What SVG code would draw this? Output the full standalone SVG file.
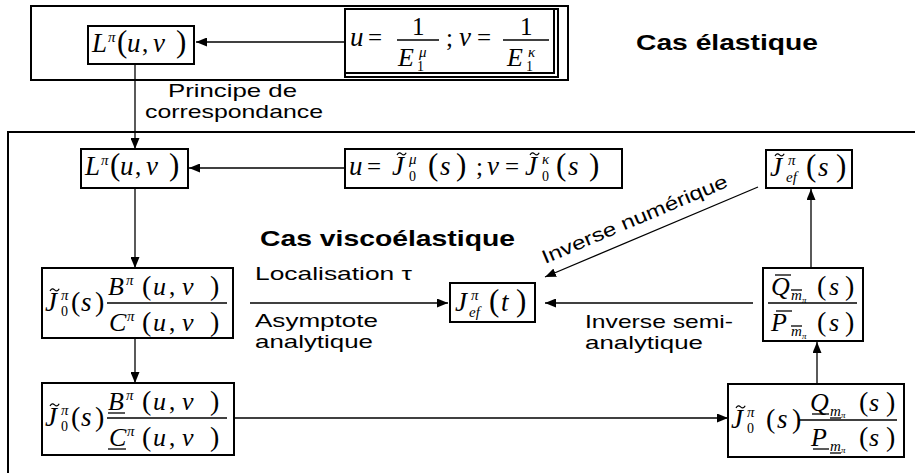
<svg xmlns="http://www.w3.org/2000/svg" width="915" height="473" viewBox="0 0 915 473">
<style>
.box{fill:#fff;stroke:#000;stroke-width:2}
.frame{fill:none;stroke:#000;stroke-width:2}
.ln{fill:none;stroke:#000;stroke-width:1.3}
.bar{stroke:#000;stroke-width:1.3}
.tl{fill:none;stroke:#000;stroke-width:1.2}
.m{font-family:"Liberation Serif","Times New Roman",serif;font-style:italic;font-size:27px}
.mf{font-family:"Liberation Serif","Times New Roman",serif;font-style:italic;font-size:26px}
.r{font-family:"Liberation Serif","Times New Roman",serif;font-size:25px}
.p{font-family:"Liberation Serif","Times New Roman",serif;font-size:31px}
.pf{font-family:"Liberation Serif","Times New Roman",serif;font-size:28px}
.s{font-family:"Liberation Serif","Times New Roman",serif;font-style:italic;font-size:15px}
.s0{font-family:"Liberation Serif","Times New Roman",serif;font-size:14px}
.ss{font-family:"Liberation Serif","Times New Roman",serif;font-style:italic;font-size:9px}
.t{font-family:"Liberation Serif","Times New Roman",serif;font-size:25px}
.lbl{font-family:"Liberation Sans",Arial,sans-serif;font-size:19px}
.ttl{font-family:"Liberation Sans",Arial,sans-serif;font-size:22px;font-weight:bold}
</style>
<defs>
<marker id="ah" markerUnits="userSpaceOnUse" markerWidth="11" markerHeight="9" refX="11" refY="4.5" orient="auto">
<path d="M0,0 L11,4.5 L0,9 z" fill="#000"/>
</marker>
<path id="tilde" class="tl" d="M0,0 c1.5,-2.6 3,-2.6 4.6,-1.1 s3.1,1.5 4.6,-1.1"/>
</defs>

<g id="frames">
<rect class="frame" x="31" y="6" width="537" height="74"/>
<rect class="frame" x="8" y="132" width="930" height="360"/>
</g>

<g id="labels">
<text class="ttl" x="636" y="50" textLength="182" lengthAdjust="spacingAndGlyphs">Cas élastique</text>
<text class="ttl" x="260" y="246" textLength="255" lengthAdjust="spacingAndGlyphs">Cas viscoélastique</text>
<text class="lbl" x="168" y="97" textLength="129" lengthAdjust="spacingAndGlyphs">Principe de</text>
<text class="lbl" x="145" y="118" textLength="178" lengthAdjust="spacingAndGlyphs">correspondance</text>
<text class="lbl" x="255" y="280" textLength="157" lengthAdjust="spacingAndGlyphs">Localisation τ</text>
<text class="lbl" x="255" y="327" textLength="123" lengthAdjust="spacingAndGlyphs">Asymptote</text>
<text class="lbl" x="255" y="348" textLength="118" lengthAdjust="spacingAndGlyphs">analytique</text>
<text class="lbl" x="585" y="328" textLength="148" lengthAdjust="spacingAndGlyphs">Inverse semi-</text>
<text class="lbl" x="585" y="349" textLength="118" lengthAdjust="spacingAndGlyphs">analytique</text>
<text class="lbl" transform="translate(545,264) rotate(-22.9)" textLength="200" lengthAdjust="spacingAndGlyphs">Inverse numérique</text>
</g>

<g id="connectors">
<line class="ln" x1="345" y1="42" x2="196" y2="42" marker-end="url(#ah)"/>
<line class="ln" x1="135" y1="64" x2="135" y2="149" marker-end="url(#ah)"/>
<line class="ln" x1="345" y1="168" x2="189" y2="168" marker-end="url(#ah)"/>
<line class="ln" x1="135" y1="188" x2="135" y2="268" marker-end="url(#ah)"/>
<line class="ln" x1="135" y1="338" x2="135" y2="383" marker-end="url(#ah)"/>
<line class="ln" x1="250" y1="303" x2="448" y2="303" marker-end="url(#ah)"/>
<line class="ln" x1="234" y1="418" x2="728" y2="418" marker-end="url(#ah)"/>
<line class="ln" x1="817" y1="384" x2="817" y2="342" marker-end="url(#ah)"/>
<line class="ln" x1="811" y1="268" x2="811" y2="189" marker-end="url(#ah)"/>
<line class="ln" x1="753" y1="303" x2="545" y2="303" marker-end="url(#ah)"/>
<line class="ln" x1="758" y1="187" x2="545" y2="277" marker-end="url(#ah)"/>
</g>

<g id="node-L-elastic">
<rect class="box" x="88" y="26" width="106" height="38"/>
<text class="m" x="92" y="52">L</text>
<text class="s" x="108" y="42">π</text>
<text class="p" x="117" y="52">(</text>
<text class="m" x="127" y="52">u</text>
<text class="r" x="142" y="52">,</text>
<text class="m" x="153" y="52">v</text>
<text class="p" x="176" y="52">)</text>
</g>

<g id="node-uv-elastic">
<rect class="box" x="345" y="9" width="213" height="68" stroke-width="1.5"/>
<rect class="frame" x="345" y="9" width="209" height="64" stroke-width="1.5"/>
<text class="m" x="350" y="46">u</text>
<text class="r" x="368" y="46">=</text>
<line class="bar" x1="397" y1="40" x2="439" y2="40"/>
<text class="t" x="412" y="35">1</text>
<text class="mf" x="398" y="66">E</text>
<text class="s0" x="417" y="71">1</text>
<text class="s" x="419" y="57">μ</text>
<text class="r" x="446" y="46">;</text>
<text class="m" x="459" y="46">v</text>
<text class="r" x="477" y="46">=</text>
<line class="bar" x1="503" y1="40" x2="549" y2="40"/>
<text class="t" x="520" y="35">1</text>
<text class="mf" x="507" y="66">E</text>
<text class="s0" x="526" y="71">1</text>
<text class="s" x="528" y="57">κ</text>
</g>

<g id="node-L-visco">
<rect class="box" x="81" y="149" width="107" height="39"/>
<text class="m" x="85" y="175">L</text>
<text class="s" x="101" y="165">π</text>
<text class="p" x="110" y="175">(</text>
<text class="m" x="120" y="175">u</text>
<text class="r" x="135" y="175">,</text>
<text class="m" x="146" y="175">v</text>
<text class="p" x="169" y="175">)</text>
</g>

<g id="node-uv-visco">
<rect class="box" x="345" y="149" width="277" height="39"/>
<text class="m" x="349" y="175">u</text>
<text class="r" x="367" y="175">=</text>
<text class="m" x="392" y="175">J</text>
<use href="#tilde" x="397" y="155"/>
<text class="s" x="409" y="164">μ</text>
<text class="s0" x="409" y="181">0</text>
<text class="p" x="428" y="175">(</text>
<text class="m" x="440" y="175">s</text>
<text class="p" x="456" y="175">)</text>
<text class="r" x="476" y="175">;</text>
<text class="m" x="487" y="175">v</text>
<text class="r" x="505" y="175">=</text>
<text class="m" x="525" y="175">J</text>
<use href="#tilde" x="530" y="155"/>
<text class="s" x="542" y="164">κ</text>
<text class="s0" x="542" y="181">0</text>
<text class="p" x="556" y="175">(</text>
<text class="m" x="568" y="175">s</text>
<text class="p" x="589" y="175">)</text>
</g>

<g id="node-J0-BC">
<rect class="box" x="42" y="268" width="191" height="70"/>
<text class="m" x="45" y="311">J</text>
<use href="#tilde" x="50" y="291"/>
<text class="s" x="61" y="300">π</text>
<text class="s0" x="61" y="316">0</text>
<text class="pf" x="71" y="311">(</text>
<text class="m" x="81" y="311">s</text>
<text class="pf" x="95" y="311">)</text>
<line class="bar" x1="107" y1="303" x2="227" y2="303"/>
<text class="mf" x="108" y="295">B</text>
<text class="s" x="126" y="285">π</text>
<text class="pf" x="142" y="295">(</text>
<text class="mf" x="153" y="295">u</text>
<text class="r" x="169" y="295">,</text>
<text class="mf" x="182" y="295">v</text>
<text class="pf" x="210" y="295">)</text>
<text class="mf" x="109" y="331">C</text>
<text class="s" x="127" y="321">π</text>
<text class="pf" x="142" y="331">(</text>
<text class="mf" x="153" y="331">u</text>
<text class="r" x="169" y="331">,</text>
<text class="mf" x="182" y="331">v</text>
<text class="pf" x="210" y="331">)</text>
</g>

<g id="node-J0-BC-under">
<rect class="box" x="42" y="383" width="192" height="72"/>
<text class="m" x="45" y="426">J</text>
<use href="#tilde" x="50" y="406"/>
<text class="s" x="61" y="415">π</text>
<text class="s0" x="61" y="431">0</text>
<text class="pf" x="71" y="426">(</text>
<text class="m" x="81" y="426">s</text>
<text class="pf" x="95" y="426">)</text>
<line class="bar" x1="107" y1="418" x2="227" y2="418"/>
<text class="mf" x="108" y="410">B</text>
<line class="bar" x1="108" y1="413" x2="125" y2="413"/>
<text class="s" x="126" y="400">π</text>
<text class="pf" x="142" y="410">(</text>
<text class="mf" x="153" y="410">u</text>
<text class="r" x="169" y="410">,</text>
<text class="mf" x="182" y="410">v</text>
<text class="pf" x="210" y="410">)</text>
<text class="mf" x="109" y="446">C</text>
<line class="bar" x1="108" y1="449" x2="126" y2="449"/>
<text class="s" x="127" y="436">π</text>
<text class="pf" x="142" y="446">(</text>
<text class="mf" x="153" y="446">u</text>
<text class="r" x="169" y="446">,</text>
<text class="mf" x="182" y="446">v</text>
<text class="pf" x="210" y="446">)</text>
</g>

<g id="node-Jef-t">
<rect class="box" x="450" y="283" width="85" height="39"/>
<text class="m" x="455" y="311">J</text>
<text class="s" x="471" y="300">π</text>
<text class="s" x="469" y="317" font-size="13">ef</text>
<text class="p" x="489" y="311">(</text>
<text class="m" x="501" y="311">t</text>
<text class="p" x="516" y="311">)</text>
</g>

<g id="node-Jef-s">
<rect class="box" x="766" y="150" width="86" height="38"/>
<text class="m" x="770" y="176">J</text>
<use href="#tilde" x="775" y="156"/>
<text class="s" x="788" y="165">π</text>
<text class="s" x="786" y="182" font-size="13">ef</text>
<text class="p" x="806" y="176">(</text>
<text class="m" x="818" y="176">s</text>
<text class="p" x="836" y="176">)</text>
</g>

<g id="node-QP-bar">
<rect class="box" x="763" y="268" width="100" height="73"/>
<text class="mf" x="771" y="295">Q</text>
<line class="bar" x1="775" y1="275" x2="791" y2="275"/>
<text class="s" x="791" y="300" font-size="13">m</text>
<line class="bar" x1="791" y1="290" x2="802" y2="290"/>
<text class="ss" x="802" y="303">π</text>
<text class="pf" x="817" y="295">(</text>
<text class="mf" x="829" y="295">s</text>
<text class="pf" x="845" y="295">)</text>
<line class="bar" x1="768" y1="303" x2="857" y2="303"/>
<text class="mf" x="771" y="331">P</text>
<line class="bar" x1="776" y1="311" x2="792" y2="311"/>
<text class="s" x="791" y="336" font-size="13">m</text>
<line class="bar" x1="791" y1="326" x2="802" y2="326"/>
<text class="ss" x="802" y="339">π</text>
<text class="pf" x="817" y="331">(</text>
<text class="mf" x="829" y="331">s</text>
<text class="pf" x="845" y="331">)</text>
</g>

<g id="node-J0-QP-under">
<rect class="box" x="728" y="384" width="176" height="73"/>
<text class="m" x="731" y="428">J</text>
<use href="#tilde" x="736" y="408"/>
<text class="s" x="747" y="417">π</text>
<text class="s0" x="747" y="433">0</text>
<text class="pf" x="766" y="428">(</text>
<text class="m" x="777" y="428">s</text>
<text class="pf" x="792" y="428">)</text>
<line class="bar" x1="798" y1="420" x2="897" y2="420"/>
<text class="mf" x="810" y="411">Q</text>
<line class="bar" x1="812" y1="414" x2="829" y2="414"/>
<text class="s" x="830" y="416" font-size="13">m</text>
<line class="bar" x1="830" y1="418" x2="841" y2="418"/>
<text class="ss" x="841" y="418">π</text>
<text class="pf" x="859" y="411">(</text>
<text class="mf" x="869" y="411">s</text>
<text class="pf" x="886" y="411">)</text>
<text class="mf" x="811" y="446">P</text>
<line class="bar" x1="813" y1="449" x2="829" y2="449"/>
<text class="s" x="830" y="451" font-size="13">m</text>
<line class="bar" x1="830" y1="453" x2="841" y2="453"/>
<text class="ss" x="841" y="453">π</text>
<text class="pf" x="859" y="446">(</text>
<text class="mf" x="869" y="446">s</text>
<text class="pf" x="886" y="446">)</text>
</g>
</svg>
